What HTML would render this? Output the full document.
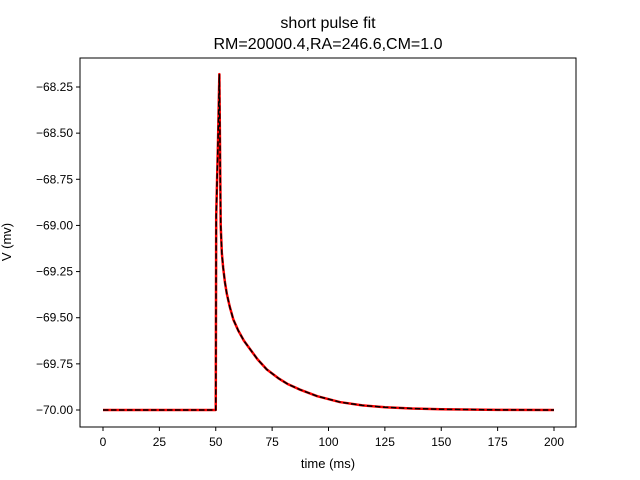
<!DOCTYPE html>
<html><head><meta charset="utf-8">
<style>body{margin:0;background:#fff}svg{display:block;font-family:"Liberation Sans","DejaVu Sans",sans-serif}</style>
</head><body>
<svg id="chart" width="640" height="480" xmlns="http://www.w3.org/2000/svg">
<rect width="640" height="480" fill="#fff"/>
<text x="328" y="28" font-size="16" text-anchor="middle">short pulse fit</text>
<text x="328" y="49" font-size="16" text-anchor="middle">RM=20000.4,RA=246.6,CM=1.0</text>
<g id="ticks"></g>
<g id="lines"></g>
<rect x="80" y="58" width="496" height="369" fill="none" stroke="#000" stroke-width="1"/>
<text x="328" y="468" font-size="13" text-anchor="middle">time (ms)</text>
<text x="0" y="0" font-size="13" text-anchor="middle" transform="translate(11,242) rotate(-90)">V (mv)</text>
</svg>
<script>
const times=[0,50,50.2,50.6,51,51.6,52.2,52.7,53.3,54.1,54.9,56.2,57.8,60,62.5,65.2,68.5,72.6,78,82,87.4,95,105,115,125,137,150,175,200];
const volts=[-70,-70,-68.95,-68.75,-68.55,-68.18,-69.0,-69.15,-69.23,-69.31,-69.37,-69.44,-69.51,-69.57,-69.625,-69.67,-69.725,-69.78,-69.83,-69.86,-69.89,-69.925,-69.957,-69.975,-69.985,-69.992,-69.996,-69.999,-70];
const xTicks=[0,25,50,75,100,125,150,175,200];
const yTicks=[-70,-69.75,-69.5,-69.25,-69,-68.75,-68.5,-68.25];
const X=t=>103+t*(554-103)/200;
const Y=v=>410-(v+70)*184.57;
const NS="http://www.w3.org/2000/svg";
const tg=document.getElementById('ticks'),lg=document.getElementById('lines');
function mk(tag,attrs,parent){const e=document.createElementNS(NS,tag);for(const k in attrs)e.setAttribute(k,attrs[k]);parent.appendChild(e);return e;}
xTicks.forEach(t=>{
 const l=mk('line',{x1:X(t),x2:X(t),y1:427,y2:431,stroke:'#000'},tg);
 
 
 const s=mk('text',{x:X(t),y:446,'font-size':12,'text-anchor':'middle'},tg);
 
 
 s.textContent=t;
});
yTicks.forEach(v=>{
 const l=mk('line',{x1:76,x2:80,y1:Y(v),y2:Y(v),stroke:'#000'},tg);
 
 
 const s=mk('text',{x:73,y:Y(v)+4,'font-size':12,'text-anchor':'end'},tg);
 
 
 s.textContent=v.toFixed(2).replace('-','\u2212');
});
const pts=times.map((t,i)=>X(t).toFixed(2)+','+Y(volts[i]).toFixed(2)).join(' ');
const r=mk('polyline',{points:pts,fill:'none',stroke:'#ff0000','stroke-width':2.5,'stroke-linejoin':'round'},lg);


const b=mk('polyline',{points:pts,fill:'none',stroke:'#000','stroke-width':1.5,'stroke-dasharray':'5.5,2.5'},lg);


</script>
</body></html>
